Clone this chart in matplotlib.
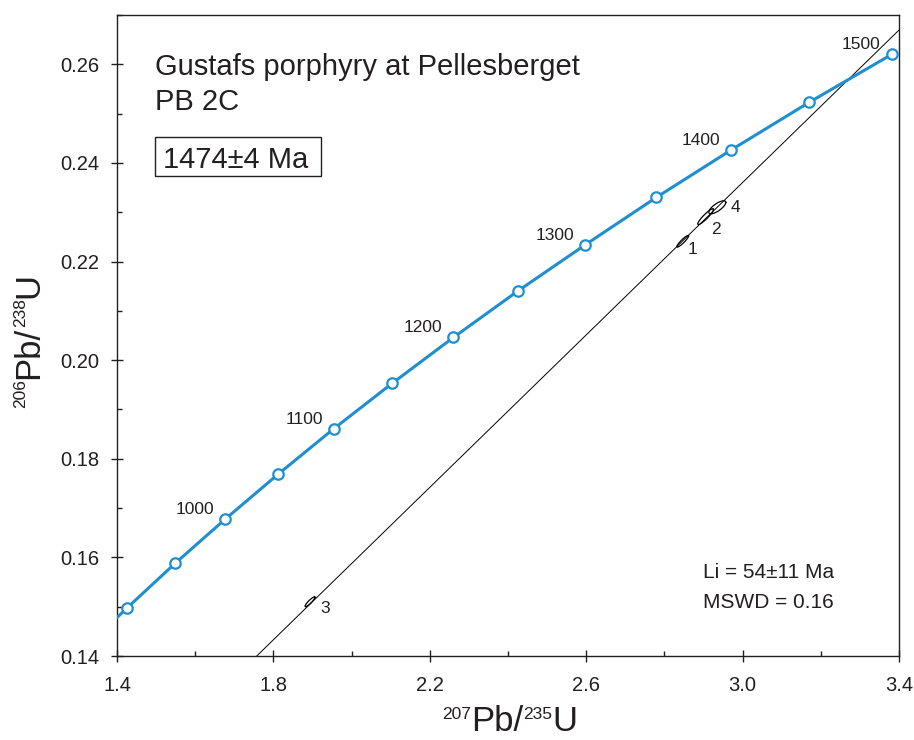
import numpy as np
import matplotlib.pyplot as plt
from matplotlib.ticker import MultipleLocator, FixedLocator, FormatStrFormatter
from matplotlib.patches import Rectangle

plt.rcParams['font.family'] = ['Liberation Sans', 'DejaVu Sans']

# concordia nodes every 50 Ma
ages = [850, 900, 950, 1000, 1050, 1100, 1150, 1200, 1250, 1300, 1350, 1400, 1450, 1500]
pb207_u235 = [1.3097, 1.4264, 1.5488, 1.6774, 1.8125, 1.9545, 2.1037, 2.2603,
              2.4248, 2.5977, 2.7792, 2.9701, 3.1705, 3.3811]
pb206_u238 = [0.1409, 0.1498, 0.1588, 0.1678, 0.1769, 0.1861, 0.1953, 0.2046,
              0.2140, 0.2234, 0.2330, 0.2426, 0.2523, 0.2620]
label_ages = [1000, 1100, 1200, 1300, 1400, 1500]

# discordia: lower (54 Ma) and upper (1474 Ma) intercepts
intercept_x = [0.0546, 3.2702]
intercept_y = [0.00841, 0.25691]

# analyses, error ellipses
spots = ['1', '2', '3', '4']
spot_x = [2.8468, 2.9054, 1.8936, 2.9353]
spot_y = [0.2241, 0.2291, 0.1510, 0.2310]
spot_sx = [0.0150, 0.0201, 0.0126, 0.0217]
spot_sy = [0.00118, 0.0016, 0.0010, 0.00132]
spot_rho = [0.92, 0.92, 0.907, 0.75]

x_ticks = [1.4, 1.8, 2.2, 2.6, 3.0, 3.4]

blue = '#1f8fd0'
ink = '#231f20'

fig = plt.figure(figsize=(9.14, 7.4), dpi=100)
ax = fig.add_axes([0.12801, 0.11351, 0.85558, 0.86622])

# discordia line
ax.axline((intercept_x[0], intercept_y[0]), (intercept_x[1], intercept_y[1]),
          color='black', lw=0.7, zorder=2)

# concordia curve with nodes
ax.plot(pb207_u235, pb206_u238, color=blue, lw=2.2, marker='o', ms=7.5,
        mfc='white', mec=blue, mew=1.6, zorder=3)
for a, x, y in zip(ages, pb207_u235, pb206_u238):
    if a in label_ages:
        ax.annotate(str(a), (x, y), xytext=(-11, 5), textcoords='offset pixels',
                    ha='right', va='baseline', fontsize=12.5, color=ink)

# error ellipses
t = np.linspace(0, 2 * np.pi, 120)
offsets = {'1': (10, -8), '2': (10, -13), '3': (15, -7), '4': (18, 0)}
for s, cx, cy, sx, sy, r in zip(spots, spot_x, spot_y, spot_sx, spot_sy, spot_rho):
    ex = cx + sx * np.cos(t)
    ey = cy + sy * (r * np.cos(t) + np.sqrt(1 - r ** 2) * np.sin(t))
    ax.plot(ex, ey, color='black', lw=0.9, zorder=4)
    ax.annotate(s, (cx, cy), xytext=offsets[s], textcoords='offset pixels',
                ha='center', va='center', fontsize=12.5, color=ink)

ax.set_xlim(1.4, 3.4)
ax.set_ylim(0.14, 0.27)
ax.xaxis.set_major_locator(FixedLocator(x_ticks))
ax.xaxis.set_minor_locator(MultipleLocator(0.2))
ax.yaxis.set_major_locator(MultipleLocator(0.02))
ax.yaxis.set_minor_locator(MultipleLocator(0.01))
ax.xaxis.set_major_formatter(FormatStrFormatter('%.1f'))
ax.yaxis.set_major_formatter(FormatStrFormatter('%.2f'))
ax.tick_params(which='major', direction='inout', length=9, width=1.0,
               labelsize=14.5, colors=ink)
ax.tick_params(axis='x', which='major', pad=10)
ax.tick_params(axis='y', which='major', pad=8)
ax.tick_params(which='minor', direction='in', length=3.6, width=1.0, colors=ink)
for sp in ax.spines.values():
    sp.set_linewidth(1.0)
    sp.set_color(ink)

# annotations
ax.text(0.0486, 0.9064, 'Gustafs porphyry at Pellesberget', transform=ax.transAxes,
        fontsize=21, color=ink, va='baseline')
ax.text(0.0486, 0.8518, 'PB 2C', transform=ax.transAxes,
        fontsize=21, color=ink, va='baseline')
ax.add_patch(Rectangle((0.0486, 0.7488), 0.2123, 0.0608, transform=ax.transAxes,
                       fill=False, ec=ink, lw=1.0))
ax.text(0.0588, 0.7613, '1474±4 Ma', transform=ax.transAxes,
        fontsize=21, color=ink, va='baseline')
ax.text(0.749, 0.1217, 'Li = 54±11 Ma', transform=ax.transAxes,
        fontsize=15, color=ink, va='baseline')
ax.text(0.749, 0.0749, 'MSWD = 0.16', transform=ax.transAxes,
        fontsize=15, color=ink, va='baseline')


# axis labels with small superscripts
def iso_label(pieces, x0, y0, vertical=False):
    prev = None
    for s, sup in pieces:
        size = 12.5 if sup else 25
        rise = 9 if sup else 0
        if vertical:
            xy = (x0, y0) if prev is None else (x0, 1)
            coords = 'figure fraction' if prev is None else ('figure fraction', prev)
            prev = ax.annotate(s, xy, xycoords=coords, xytext=(-rise, 0),
                               textcoords='offset points', fontsize=size, color=ink,
                               rotation=90, rotation_mode='anchor',
                               ha='left', va='baseline', annotation_clip=False)
        else:
            xy = (x0, y0) if prev is None else (1, y0)
            coords = 'figure fraction' if prev is None else (prev, 'figure fraction')
            prev = ax.annotate(s, xy, xycoords=coords, xytext=(0, rise),
                               textcoords='offset points', fontsize=size, color=ink,
                               ha='left', va='baseline', annotation_clip=False)


iso_label([('207', True), ('Pb/', False), ('235', True), ('U', False)], 0.4836, 0.012)
iso_label([('206', True), ('Pb/', False), ('238', True), ('U', False)], 0.0416, 0.4486,
          vertical=True)

fig.savefig('out.png', dpi=100)
